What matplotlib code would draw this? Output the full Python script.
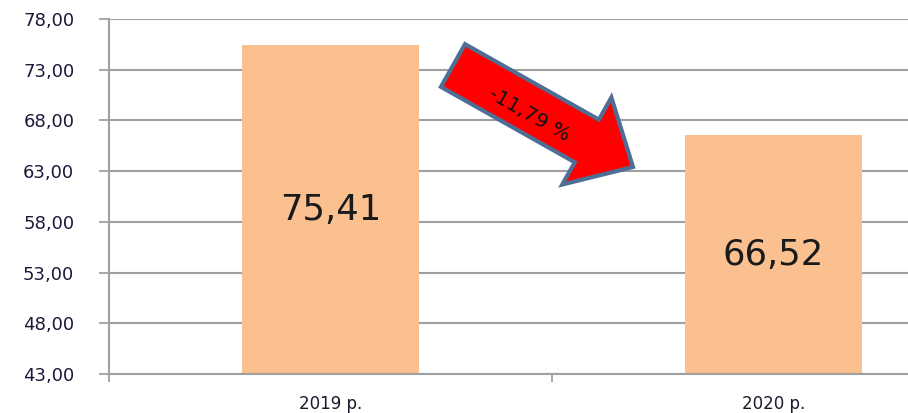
import numpy as np
import matplotlib.pyplot as plt
from matplotlib.patches import FancyArrow
from matplotlib import transforms

# дані
years = ['2019 р.', '2020 р.']
values = [75.41, 66.52]
value_labels = ['75,41', '66,52']
change_label = '-11,79 %'
y_ticks = [43, 48, 53, 58, 63, 68, 73, 78]

W, H = 908, 413
fig = plt.figure(figsize=(W / 100, H / 100), dpi=100)
# вісь виходить за правий край, як на оригіналі
ax = fig.add_axes([109 / W, 1 - 374 / H, 886 / W, 355 / H])

grid_c = '#a0a0a0'
x = np.arange(len(years))
ax.bar(x, values, width=0.4, bottom=0, color='#fac090', zorder=2)
ax.set_ylim(43, 78)
ax.set_xlim(-0.5, 1.5)

ax.set_yticks(y_ticks)
ax.set_yticklabels(['%d,00' % t for t in y_ticks])
ax.yaxis.grid(True, color=grid_c, lw=1.5, zorder=0)
ax.set_axisbelow(True)

ax.set_xticks([-0.5, 0.5, 1.5])
ax.set_xticklabels([])
ax.set_xticks(x, minor=True)
ax.set_xticklabels(years, minor=True)
ax.tick_params(axis='x', which='minor', length=0, pad=15, labelsize=12, labelcolor='#1a1a2a')
ax.tick_params(axis='x', which='major', length=6, width=1.3, color=grid_c)
ax.tick_params(axis='y', length=7, width=1.3, color=grid_c, labelsize=13,
               labelcolor='#1a1a3a', pad=18)

for s in ['top', 'right']:
    ax.spines[s].set_visible(False)
for s in ['left', 'bottom']:
    ax.spines[s].set_color(grid_c)
    ax.spines[s].set_linewidth(1.5)

for xi, v, lab in zip(x, values, value_labels):
    ax.text(xi, (43 + v) / 2, lab, ha='center', va='center', fontsize=25.5, color='#1a1a1a', zorder=3)

# стрілка в пікселях картинки (y вниз)
px = transforms.Affine2D().scale(1 / W, -1 / H).translate(0, 1) + fig.transFigure
arr = FancyArrow(453, 65.5, 180, 101.5, width=49, head_width=100, head_length=53,
                 length_includes_head=True, transform=px, facecolor='#ff0000',
                 edgecolor='#4f6e96', lw=3, joinstyle='miter', zorder=5)
fig.patches.append(arr)
fig.text(529 / W, 1 - 115 / H, change_label, rotation=-29.4, ha='center', va='center',
         rotation_mode='anchor', fontsize=14.5, color='#111111', zorder=6)

fig.savefig('out.png', dpi=100)
